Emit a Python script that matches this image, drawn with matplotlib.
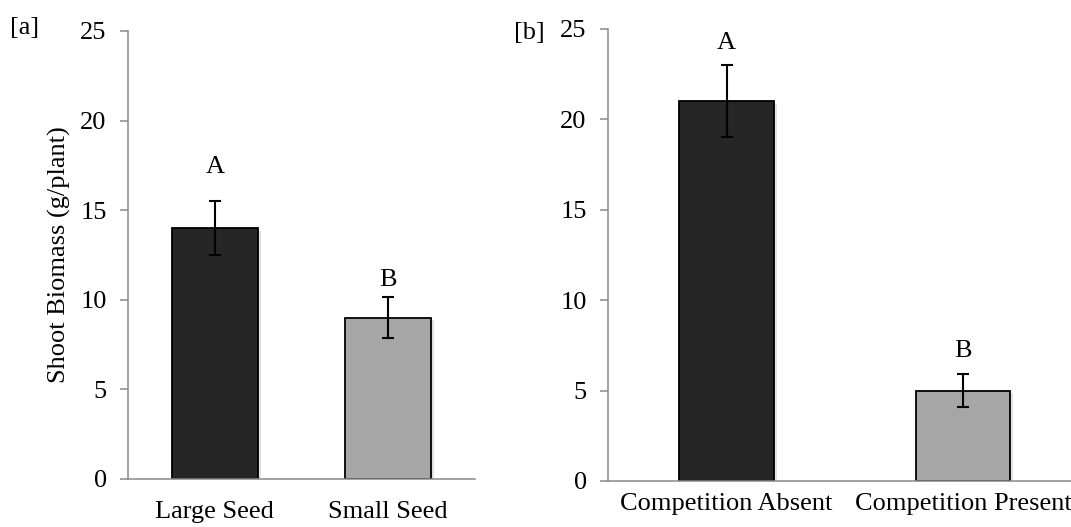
import matplotlib
matplotlib.use("Agg")
import matplotlib.pyplot as plt
import matplotlib.patheffects as pe

plt.rcParams["font.family"] = ["Liberation Serif", "DejaVu Serif"]
plt.rcParams["font.size"] = 19

# panel [a]: seed size
seed_cats = ["Large Seed", "Small Seed"]
seed_mean = [14.0, 9.0]
seed_err = [1.5, 1.13]
seed_sig = ["A", "B"]
seed_sig_y = [17.4, 11.1]

# panel [b]: competition
comp_cats = ["Competition Absent", "Competition Present"]
comp_mean = [21.0, 5.0]
comp_err = [2.0, 0.93]
comp_sig = ["A", "B"]
comp_sig_y = [24.25, 7.2]

yticks = [0, 5, 10, 15, 20, 25]
bar_colors = ["#262626", "#a6a6a6"]
axis_gray = "#898989"

fig = plt.figure(figsize=(10.71, 5.27), dpi=100)
ax_a = fig.add_axes([0.1198, 0.0911, 0.3235, 0.8501])
ax_b = fig.add_axes([0.5680, 0.0873, 0.4415, 0.8577])


def draw_panel(ax, cats, mean, err, sig, sig_y, width, xpad):
    x = range(len(cats))
    bars = ax.bar(x, mean, width=width, color=bar_colors, edgecolor="black",
                  linewidth=1.3, zorder=2)
    for b in bars:
        b.set_path_effects([pe.SimplePatchShadow(offset=(2, -2), shadow_rgbFace="#888888", alpha=0.25),
                            pe.Normal()])
    ax.errorbar(x, mean, yerr=err, fmt="none", ecolor="black", elinewidth=1.5,
                capsize=4.3, capthick=1.5, zorder=3)
    for xi, s, yy in zip(x, sig, sig_y):
        ax.text(xi, yy, s, ha="center", va="center", fontsize=19)
    ax.set_xlim(-0.5, len(cats) - 0.5)
    ax.set_ylim(0, 25)
    ax.set_yticks(yticks)
    ax.set_xticks(list(x))
    ax.set_xticklabels(cats)
    for side in ["top", "right"]:
        ax.spines[side].set_visible(False)
    for side in ["left", "bottom"]:
        ax.spines[side].set_color(axis_gray)
        ax.spines[side].set_linewidth(1.1)
    ax.tick_params(axis="y", direction="out", length=5.6, width=1.1, color=axis_gray, pad=10)
    ax.tick_params(axis="x", length=0, pad=xpad)


draw_panel(ax_a, seed_cats, seed_mean, seed_err, seed_sig, seed_sig_y, 0.5, 16)
draw_panel(ax_b, comp_cats, comp_mean, comp_err, comp_sig, comp_sig_y, 0.40, 8.5)

ax_a.set_ylabel("Shoot Biomass (g/plant)", fontsize=19)
ax_a.yaxis.set_label_coords(-0.165, 0.5)

fig.text(10 / 1071, 1 - 28 / 527, "[a]", ha="left", va="center", fontsize=19)
fig.text(514 / 1071, 1 - 33 / 527, "[b]", ha="left", va="center", fontsize=19)

fig.savefig("out.png", dpi=100, facecolor="white")
